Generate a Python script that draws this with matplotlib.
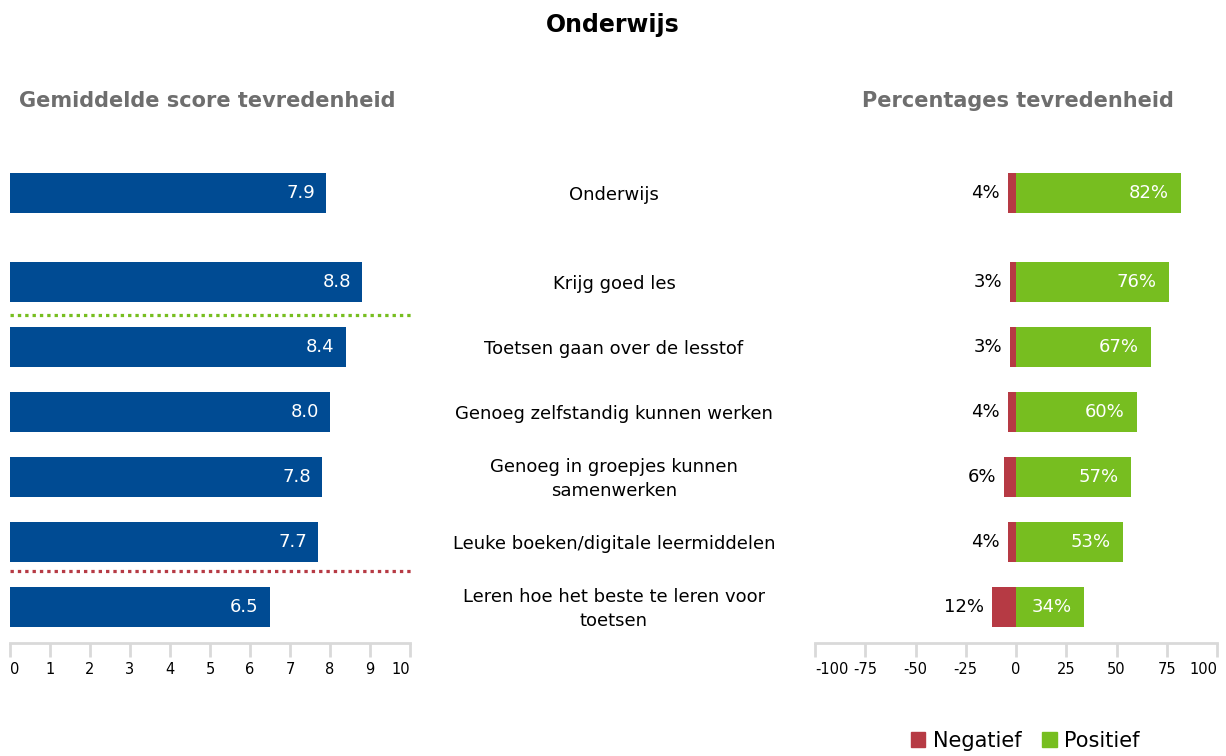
"""Onderwijs: gemiddelde score en percentages tevredenheid."""
import numpy as np
import matplotlib
matplotlib.use("Agg")
import matplotlib.pyplot as plt
from matplotlib.patches import Patch

categories = [
    "Onderwijs",
    "Krijg goed les",
    "Toetsen gaan over de lesstof",
    "Genoeg zelfstandig kunnen werken",
    "Genoeg in groepjes kunnen\nsamenwerken",
    "Leuke boeken/digitale leermiddelen",
    "Leren hoe het beste te leren voor\ntoetsen",
]
scores = [7.9, 8.8, 8.4, 8.0, 7.8, 7.7, 6.5]
negatief = [4, 3, 3, 4, 6, 4, 12]
positief = [82, 76, 67, 60, 57, 53, 34]
score_ticks = list(range(0, 11))
pct_ticks = [-100, -75, -50, -25, 0, 25, 50, 75, 100]

BLUE = "#004B93"
GREEN = "#77BE20"
RED = "#B63A44"
GREY = "#6E6E6E"
AXIS = "#D9D9D9"

plt.rcParams["font.family"] = ["DejaVu Sans"]

# first row stands apart from the rest
ypos = np.array([0.0] + [1.37 + i for i in range(len(categories) - 1)])
ylim = (6.92, -0.66)
bar_h = 0.62

fig = plt.figure(figsize=(12.26, 7.56), dpi=100)
W, H = 1226, 756
bottom = 1 - 643 / H
height = (643 - 150) / H
ax_l = fig.add_axes([10 / W, bottom, 400 / W, height])
ax_r = fig.add_axes([815 / W, bottom, 402 / W, height])


def style_axis(ax, ticks):
    for s in ("left", "right", "top"):
        ax.spines[s].set_visible(False)
    ax.spines["bottom"].set_color(AXIS)
    ax.spines["bottom"].set_linewidth(2)
    ax.set_xticks(ticks)
    ax.set_xticklabels([str(t) for t in ticks])
    ax.tick_params(axis="x", colors=AXIS, length=10, width=2, labelsize=10.5,
                   labelcolor="black", pad=4)
    labels = ax.get_xticklabels()
    labels[0].set_ha("left")
    labels[-1].set_ha("right")
    ax.set_yticks([])
    ax.set_ylim(*ylim)


# left: mean score
ax_l.barh(ypos, scores, height=bar_h, color=BLUE)
for y, v in zip(ypos, scores):
    ax_l.text(v - 0.28, y, f"{v:.1f}", color="white", ha="right", va="center", fontsize=13)
ax_l.set_xlim(0, 10)
style_axis(ax_l, score_ticks)
dots = (0, (1.05, 1.25))
ax_l.plot([0, 10.08], [(ypos[1] + ypos[2]) / 2] * 2, color=GREEN, lw=2.3,
          linestyle=dots, clip_on=False)
ax_l.plot([0, 10.08], [(ypos[5] + ypos[6]) / 2 - 0.05] * 2, color=RED, lw=2.3,
          linestyle=dots, clip_on=False)

# right: percentages
ax_r.barh(ypos, [-n for n in negatief], height=bar_h, color=RED)
ax_r.barh(ypos, positief, height=bar_h, color=GREEN)
for y, n, p in zip(ypos, negatief, positief):
    ax_r.text(-n - 4, y, f"{n}%", color="black", ha="right", va="center", fontsize=13)
    ax_r.text(p - 6, y, f"{p}%", color="white", ha="right", va="center", fontsize=13)
ax_r.set_xlim(-100, 100)
style_axis(ax_r, pct_ticks)

# category labels in the middle
for y, c in zip(ypos, categories):
    yf = 1 - (195 + y * 65) / H
    fig.text(614 / W, yf, c, ha="center", va="center", fontsize=13,
             linespacing=1.45)

fig.text(613 / W, 1 - 25 / H, "Onderwijs", ha="center", va="center",
         fontsize=17, fontweight="bold")
fig.text(207 / W, 1 - 101 / H, "Gemiddelde score tevredenheid", ha="center",
         va="center", fontsize=15, fontweight="bold", color=GREY)
fig.text(1018 / W, 1 - 101 / H, "Percentages tevredenheid", ha="center",
         va="center", fontsize=15, fontweight="bold", color=GREY)

handles = [Patch(color=RED, label="Negatief"), Patch(color=GREEN, label="Positief")]
fig.legend(handles=handles, loc="center", bbox_to_anchor=(1025 / W, 1 - 741 / H),
           ncol=2, frameon=False, fontsize=15, handlelength=0.7, handleheight=0.7,
           handletextpad=0.35, columnspacing=1.0, borderaxespad=0, borderpad=0)

fig.savefig("out.png", dpi=100)
